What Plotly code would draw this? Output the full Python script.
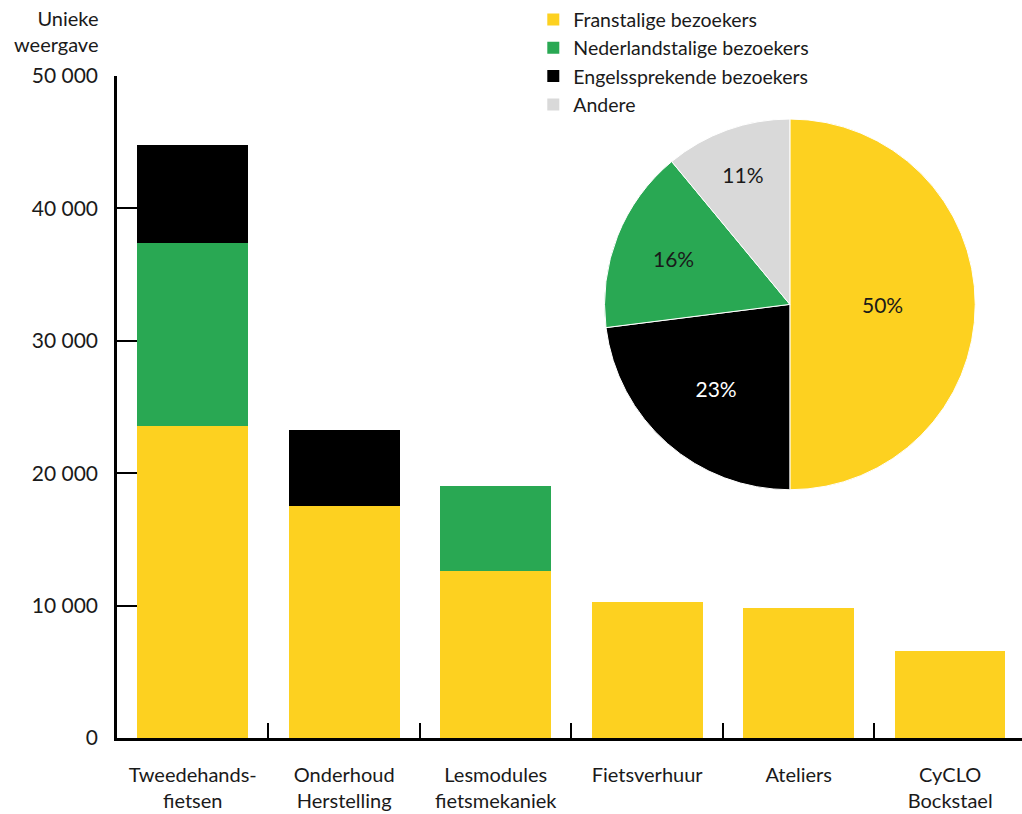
import plotly.graph_objects as go

categories = ["Tweedehands-<br>fietsen", "Onderhoud<br>Herstelling", "Lesmodules<br>fietsmekaniek",
              "Fietsverhuur", "Ateliers", "CyCLO<br>Bockstael"]
franstalig = [23600, 17500, 12650, 10300, 9800, 6600]
nederlandstalig = [13800, 0, 6350, 0, 0, 0]
engelssprekend = [7400, 5800, 0, 0, 0, 0]

pie_labels = ["Franstalige bezoekers", "Engelssprekende bezoekers", "Nederlandstalige bezoekers", "Andere"]
pie_values = [50, 23, 16, 11]

YELLOW = "#FDD120"
GREEN = "#29A853"
BLACK = "#000000"
GREY = "#D9D9D9"
FONT = "Lato"
TXT = "#1a1a1a"

fig = go.Figure()
fig.add_trace(go.Bar(x=categories, y=franstalig, name="Franstalige bezoekers", marker_color=YELLOW,
                     marker_line_width=0))
fig.add_trace(go.Bar(x=categories, y=nederlandstalig, name="Nederlandstalige bezoekers", marker_color=GREEN,
                     marker_line_width=0))
fig.add_trace(go.Bar(x=categories, y=engelssprekend, name="Engelssprekende bezoekers", marker_color=BLACK,
                     marker_line_width=0))
fig.add_trace(go.Bar(x=[categories[0]], y=[None], name="Andere", marker_color=GREY, marker_line_width=0))

fig.add_trace(go.Pie(
    labels=pie_labels, values=pie_values, sort=False, direction="clockwise", rotation=0,
    marker=dict(colors=[YELLOW, BLACK, GREEN, GREY], line=dict(color="white", width=1)),
    textinfo="percent", textposition="inside", insidetextorientation="horizontal",
    textfont=dict(family=FONT, size=21, color=[TXT, "white", TXT, TXT]),
    domain=dict(x=[0.538, 0.949], y=[0.375, 0.935]),
    showlegend=False, hoverinfo="label+percent",
))

fig.update_layout(
    barmode="stack", bargap=0.27,
    width=1022, height=814,
    margin=dict(l=117, r=0, t=74, b=76),
    paper_bgcolor="white", plot_bgcolor="white",
    font=dict(family=FONT, size=20, color=TXT),
    separators=", ",
    legend=dict(x=0.46, y=1.1145, xanchor="left", yanchor="top", font=dict(size=19.5),
                traceorder="normal", bgcolor="rgba(0,0,0,0)", tracegroupgap=0, itemclick=False),
    xaxis=dict(range=[-0.5, 5.474], showline=True, linecolor="black", linewidth=2.5,
               ticks="inside", tickson="boundaries", ticklen=15, tickwidth=2, tickcolor="black",
               ticklabelstandoff=17, tickfont=dict(size=20),
               showgrid=False, zeroline=False, fixedrange=True),
    yaxis=dict(range=[0, 50000], tickvals=[0, 10000, 20000, 30000, 40000, 50000], tickformat=",d",
               showline=True, linecolor="black", linewidth=2.5,
               ticks="inside", ticklen=20, tickwidth=2, tickcolor="black",
               ticklabelstandoff=12, tickfont=dict(size=21),
               showgrid=False, zeroline=False, fixedrange=True),
    annotations=[dict(text="Unieke<br>weergave", xref="paper", yref="paper", x=-0.0188, y=1.109,
                      xanchor="right", yanchor="top", align="right", showarrow=False,
                      font=dict(family=FONT, size=20, color=TXT))],
)

fig.write_html("out.html", config={"displayModeBar": False},
               post_script="document.body.style.margin='0';")
